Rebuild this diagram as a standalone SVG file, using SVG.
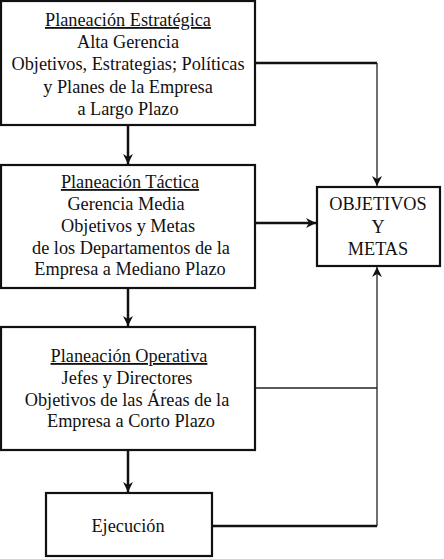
<svg xmlns="http://www.w3.org/2000/svg" width="444" height="559" viewBox="0 0 444 559">
<style>
.box{fill:#fff;stroke:#111;stroke-width:2.2}
text{font-family:"Liberation Serif","Times New Roman",serif;font-size:18.3px;fill:#111;text-anchor:middle}
.thick{stroke:#111;stroke-width:2.5;fill:none}
.thin{stroke:#222;stroke-width:1.3;fill:none}
</style>
<defs>
<marker id="ah" viewBox="0 0 10 10" refX="10" refY="5" markerWidth="10" markerHeight="10" markerUnits="userSpaceOnUse" orient="auto">
<path d="M0,0 L10,5 L0,10 L3,5 Z" fill="#111"/>
</marker>
</defs>
<g id="connectors">
<path class="thick" d="M128,126 V164" marker-end="url(#ah)"/>
<path class="thick" d="M128,289 V326" marker-end="url(#ah)"/>
<path class="thick" d="M128,451 V492" marker-end="url(#ah)"/>
<path class="thick" d="M256,223 H316" marker-end="url(#ah)"/>
<path class="thick" d="M256,63 H377"/>
<path class="thin" d="M377,63 V186" marker-end="url(#ah)"/>
<path class="thin" d="M256,388 H377"/>
<path class="thick" d="M213,526 H377"/>
<path class="thin" d="M377,526 V267" marker-end="url(#ah)"/>
</g>
<g id="estrategica">
<rect class="box" x="1" y="1" width="254" height="124"/>
<text x="128" y="26" text-decoration="underline">Planeación Estratégica</text>
<text x="128" y="48">Alta Gerencia</text>
<text x="128" y="70">Objetivos, Estrategias; Políticas</text>
<text x="128" y="93">y Planes de la Empresa</text>
<text x="128" y="115">a Largo Plazo</text>
</g>
<g id="tactica">
<rect class="box" x="1" y="165" width="254" height="123"/>
<text x="130" y="188" text-decoration="underline">Planeación Táctica</text>
<text x="126" y="210">Gerencia Media</text>
<text x="128" y="232">Objetivos y Metas</text>
<text x="131" y="254">de los Departamentos de la</text>
<text x="130" y="275">Empresa a Mediano Plazo</text>
</g>
<g id="operativa">
<rect class="box" x="1" y="327" width="254" height="123"/>
<text x="129" y="362" text-decoration="underline">Planeación Operativa</text>
<text x="127" y="384">Jefes y Directores</text>
<text x="127" y="406">Objetivos de las Áreas de la</text>
<text x="131" y="427">Empresa a Corto Plazo</text>
</g>
<g id="ejecucion">
<rect class="box" x="46" y="493" width="166" height="63"/>
<text x="128" y="532">Ejecución</text>
</g>
<g id="objetivos">
<rect class="box" x="317" y="187" width="123" height="79"/>
<text x="378" y="210">OBJETIVOS</text>
<text x="378" y="233">Y</text>
<text x="378" y="255">METAS</text>
</g>
</svg>
